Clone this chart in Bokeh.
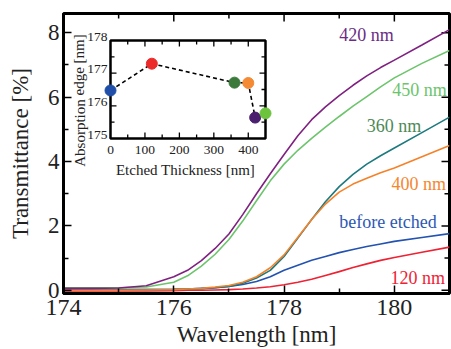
from bokeh.plotting import figure
from bokeh.models import Range1d, FixedTicker, Label
from bokeh.core.properties import value
from bokeh.embed import file_html
from bokeh.resources import INLINE

# ---------------- data ----------------
wavelength = [174, 174.5, 175, 175.5, 176, 176.25, 176.5, 176.75, 177, 177.25, 177.5,
              177.75, 178, 178.25, 178.5, 178.75, 179, 179.25, 179.5, 179.75, 180, 180.5, 181]
t_420 = [0.06, 0.06, 0.07, 0.14, 0.42, 0.62, 0.92, 1.30, 1.75, 2.35, 3.00,
         3.62, 4.22, 4.80, 5.30, 5.70, 6.05, 6.37, 6.66, 6.92, 7.15, 7.62, 8.10]
t_450 = [0.08, 0.08, 0.08, 0.10, 0.25, 0.45, 0.75, 1.12, 1.58, 2.15, 2.78,
         3.40, 3.92, 4.35, 4.72, 5.07, 5.40, 5.72, 6.02, 6.32, 6.60, 7.05, 7.45]
t_360 = [0.02, 0.02, 0.02, 0.02, 0.03, 0.04, 0.05, 0.08, 0.12, 0.22, 0.38,
         0.62, 1.05, 1.62, 2.20, 2.75, 3.22, 3.60, 3.92, 4.18, 4.42, 4.90, 5.38]
t_400 = [0.00, 0.00, 0.00, 0.01, 0.02, 0.04, 0.06, 0.10, 0.15, 0.25, 0.42,
         0.70, 1.10, 1.65, 2.20, 2.68, 3.05, 3.30, 3.48, 3.65, 3.80, 4.15, 4.50]
t_before = [0.02, 0.02, 0.02, 0.02, 0.03, 0.04, 0.06, 0.08, 0.12, 0.18, 0.27,
            0.42, 0.62, 0.78, 0.93, 1.05, 1.17, 1.27, 1.36, 1.44, 1.52, 1.64, 1.76]
t_120 = [-0.02, -0.02, -0.02, -0.02, -0.01, 0.00, 0.00, 0.01, 0.02, 0.04, 0.07,
         0.11, 0.17, 0.25, 0.34, 0.46, 0.58, 0.71, 0.82, 0.93, 1.02, 1.18, 1.34]

series_names = ["420 nm", "450 nm", "360 nm", "400 nm", "before etched", "120 nm"]

x_ticks = [174, 176, 178, 180]
x_minor = [175, 177, 179]
y_ticks = [0, 2, 4, 6, 8]
y_minor = [1, 3, 5, 7]

# inset data
etched_thickness = [0, 120, 360, 400, 420, 450]
absorption_edge = [176.47, 177.29, 176.71, 176.70, 175.64, 175.77]
inset_x_ticks = [0, 100, 200, 300, 400]
inset_x_minor = [50, 150, 250, 350, 450]
inset_y_ticks = [175, 176, 177, 178]
inset_y_minor = [175.5, 176.5, 177.5]

# ---------------- style ----------------
FONT = "Liberation Serif"
TXT = "#222222"
curve_colors = ["#7f2180", "#6cc46c", "#1d7a7e", "#f5822a", "#2352b0", "#ee2233"]
label_colors = ["#6a2c86", "#6cc46c", "#4d8a56", "#f5862e", "#2c58b4", "#ee2233"]
label_pos = [(179.0, 7.92), (179.96, 6.21), (179.5, 5.11), (179.95, 3.31), (179.0, 2.13), (179.93, 0.39)]
dot_colors = ["#1f4fa8", "#ec2a2a", "#3b7a3b", "#f58a35", "#4a1f6e", "#6cc43c"]

W, H = 451, 349
BL, BR, BT, BB = 63, 2, 13, 56
FW, FH = W - BL - BR, H - BT - BB
X0, X1 = 174, 181
Y0, Y1 = -0.1, 8.6
ux_m = (X1 - X0) / FW
uy_m = (Y1 - Y0) / FH

p = figure(width=W, height=H, x_range=Range1d(X0, X1), y_range=Range1d(Y0, Y1),
           output_backend="svg", toolbar_location=None,
           min_border_left=BL, min_border_right=BR, min_border_top=BT, min_border_bottom=BB,
           x_axis_label="Wavelength [nm]", y_axis_label="Transmittance [%]")
p.grid.visible = False
p.outline_line_color = "black"
p.outline_line_width = 3
p.background_fill_color = "white"
p.border_fill_color = "white"

p.xaxis.ticker = FixedTicker(ticks=x_ticks, minor_ticks=x_minor)
p.yaxis.ticker = FixedTicker(ticks=y_ticks, minor_ticks=y_minor)
for ax in p.xaxis + p.yaxis:
    ax.axis_line_width = 3
    ax.axis_line_color = "black"
    ax.major_tick_in = 8
    ax.major_tick_out = 0
    ax.minor_tick_in = 5
    ax.minor_tick_out = 0
    ax.major_tick_line_width = 1.5
    ax.minor_tick_line_width = 1.5
    ax.major_tick_line_color = "black"
    ax.minor_tick_line_color = "black"
    ax.major_label_text_font = FONT
    ax.major_label_text_color = TXT
    ax.major_label_text_font_size = "23px"
    ax.axis_label_text_font = FONT
    ax.axis_label_text_font_style = "normal"
    ax.axis_label_text_color = TXT
    ax.axis_label_text_font_size = "23px"
p.xaxis.major_label_text_font_size = "24px"
p.xaxis.major_label_standoff = 6
p.xaxis.axis_label_standoff = 4
p.yaxis.major_label_standoff = 4
p.yaxis.axis_label_standoff = 12

# mirrored ticks on top and right edges of the frame
top_x = x_ticks + x_minor
top_len = [8] * len(x_ticks) + [5] * len(x_minor)
p.segment(x0=top_x, y0=[Y1] * len(top_x), x1=top_x, y1=[Y1 - l * uy_m for l in top_len],
          line_color="black", line_width=1.5)
right_y = y_ticks + y_minor
right_len = [8] * len(y_ticks) + [5] * len(y_minor)
p.segment(x0=[X1] * len(right_y), y0=right_y, x1=[X1 - l * ux_m for l in right_len], y1=right_y,
          line_color="black", line_width=1.5)

all_series = [t_420, t_450, t_360, t_400, t_before, t_120]
draw_order = [5, 4, 2, 3, 1, 0]
for i in draw_order:
    p.line(wavelength, all_series[i], line_color=curve_colors[i], line_width=1.6)

for name, (lx, ly), col in zip(series_names, label_pos, label_colors):
    p.add_layout(Label(x=lx, y=ly, text=name, text_font=FONT, text_font_size="18px",
                       text_color=col, text_baseline="middle", text_align="left"))

# ---------------- inset (drawn with extra ranges) ----------------
IX0, IX1 = inset_x_ticks[0], inset_x_minor[-1]
IY0, IY1 = inset_y_ticks[0], inset_y_ticks[-1]
in_left, in_right, in_top, in_bottom = 110, 265, 40, 138  # canvas pixels
fl, fr = in_left - BL, in_right - BL
ft, fb = in_top - BT, in_bottom - BT
ux = (IX1 - IX0) / (fr - fl)
uy = (IY1 - IY0) / (fb - ft)
p.extra_x_ranges = {"ix": Range1d(IX0 - fl * ux, IX1 + (FW - fr) * ux)}
p.extra_y_ranges = {"iy": Range1d(IY0 - (FH - fb) * uy, IY1 + ft * uy)}
R = dict(x_range_name="ix", y_range_name="iy")


def cx(px):
    return IX0 + (px - in_left) * ux


def cy(py):
    return IY0 + (in_bottom - py) * uy


p.quad(left=[IX0], right=[IX1], bottom=[IY0], top=[IY1], fill_color="white",
       line_color="black", line_width=2.5, **R)

MAJ, MIN = 6, 4
xs = inset_x_ticks[1:] + inset_x_minor[:-1]
xl = [MAJ] * (len(inset_x_ticks) - 1) + [MIN] * (len(inset_x_minor) - 1)
p.segment(x0=xs, y0=[IY0] * len(xs), x1=xs, y1=[IY0 + l * uy for l in xl],
          line_color="black", line_width=1.3, **R)
p.segment(x0=xs, y0=[IY1] * len(xs), x1=xs, y1=[IY1 - l * uy for l in xl],
          line_color="black", line_width=1.3, **R)
ys = inset_y_ticks[1:-1] + inset_y_minor
yl = [MAJ] * (len(inset_y_ticks) - 2) + [MIN] * len(inset_y_minor)
p.segment(x0=[IX0] * len(ys), y0=ys, x1=[IX0 + l * ux for l in yl], y1=ys,
          line_color="black", line_width=1.3, **R)
p.segment(x0=[IX1] * len(ys), y0=ys, x1=[IX1 - l * ux for l in yl], y1=ys,
          line_color="black", line_width=1.3, **R)

p.text(x=inset_x_ticks, y=[IY0 - 7 * uy] * len(inset_x_ticks),
       text=[str(v) for v in inset_x_ticks], text_font=value(FONT), text_font_size="13.5px",
       text_align="center", text_baseline="top", text_color=TXT, **R)
p.text(x=[IX0 - 3 * ux] * len(inset_y_ticks), y=[v + 4 * uy for v in inset_y_ticks],
       text=[str(v) for v in inset_y_ticks], text_font=value(FONT), text_font_size="13.5px",
       text_align="right", text_baseline="middle", text_color=TXT, **R)

p.text(x=[cx(185)], y=[cy(169)], text=["Etched Thickness [nm]"], text_font=value(FONT),
       text_font_size="15px", text_align="center", text_baseline="middle",
       text_color=TXT, **R)
p.text(x=[cx(79)], y=[cy(100)], text=["Absorption edge [nm]"], text_font=value(FONT),
       text_font_size="15px", text_align="center", text_baseline="middle", angle=1.5708,
       text_color=TXT, **R)

p.line(etched_thickness, absorption_edge, line_color="black", line_width=1.6,
       line_dash="4 3", **R)
p.scatter(etched_thickness, absorption_edge, size=11, fill_color=dot_colors,
          line_color=dot_colors, **R)

open("out.html", "w").write(file_html(p, INLINE))
